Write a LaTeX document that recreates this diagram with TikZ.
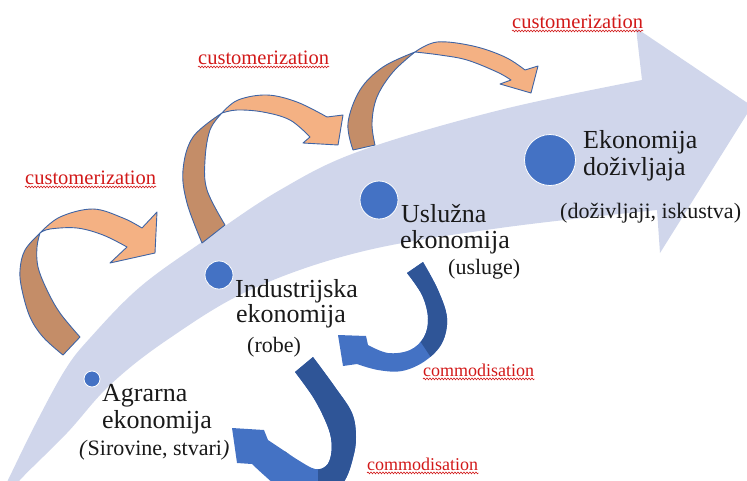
\documentclass[tikz,border=0pt]{standalone}
\usepackage{fontspec}
\setmainfont{Liberation Serif}
\usetikzlibrary{decorations.pathmorphing}
\definecolor{bandc}{RGB}{208,214,235}
\definecolor{olight}{RGB}{244,177,131}
\definecolor{obrown}{RGB}{196,141,104}
\definecolor{oline}{RGB}{62,100,165}
\definecolor{bdarkc}{RGB}{47,85,151}
\definecolor{blightc}{RGB}{68,114,196}
\definecolor{dotc}{RGB}{68,114,196}
\definecolor{redc}{RGB}{210,25,25}
\definecolor{txtc}{RGB}{25,25,25}
\newcommand\mainfs{\fontsize{26}{27}\selectfont}
\newcommand\subfs{\fontsize{22}{24}\selectfont}
\newcommand\cufs{\fontsize{20.5}{22}\selectfont}
\newcommand\cofs{\fontsize{18}{20}\selectfont}
\tikzset{
  backface/.style={fill=obrown, draw=oline, line width=0.9pt, line join=round},
  frontface/.style={fill=olight, draw=oline, line width=0.9pt, line join=round},
  bluelight/.style={fill=blightc},
  bluedark/.style={fill=bdarkc},
  dot/.style={circle, fill=dotc, draw=white, line width=0.8pt, inner sep=0pt},
  lab/.style={anchor=base west, inner sep=0pt, font=\mainfs, text=txtc},
  sublab/.style={anchor=base west, inner sep=0pt, font=\subfs, text=txtc},
  culab/.style={anchor=base west, inner sep=0pt, font=\cufs, text=redc},
  colab/.style={anchor=base west, inner sep=0pt, font=\cofs, text=redc},
  squiggle/.style={draw=redc, line width=0.6pt, decorate,
    decoration={snake, amplitude=0.9pt, segment length=3pt}},
  sm/.style={smooth, tension=0.6}
}
\begin{document}
\begin{tikzpicture}[x=1pt,y=-1pt]
\useasboundingbox (0,0) rectangle (747,480);
% big curved arrow
\fill[bandc] plot[sm] coordinates {(2,492)(8,480)(35,425)(65,370)(90,338)(140,287)(205,240)(280,190)(360,151)(500,110)(642,80)}
  -- (636,28) -- (752,106) -- (660,253)
  -- plot[sm] coordinates {(657,210)(500,228)(360,252)(250,290)(167,340)(110,385)(67,433)(20,480)(14,492)} -- cycle;

% orange arrow 1
\filldraw[backface] plot[sm] coordinates {(63,355)(43,337)(30,317)(22,290)(20,270)(25,250)(40,233)}
  -- plot[sm] coordinates {(40,233)(37,247)(38,267)(47,290)(60,313)(80,337)} -- cycle;
\filldraw[frontface] plot[sm] coordinates {(40,233)(60,217)(93,209)(123,218)(142,228)}
  -- (157,212) -- (155,253) -- (110,263) -- (127,247)
  -- plot[sm] coordinates {(127,247)(103,235)(77,228)(50,229)(40,233)} -- cycle;

% orange arrow 2
\filldraw[backface] plot[sm] coordinates {(202,243)(187,203)(183,170)(193,137)(222,113)}
  -- plot[sm] coordinates {(222,113)(210,130)(205,160)(207,190)(225,225)} -- cycle;
\filldraw[frontface] plot[sm] coordinates {(222,113)(238,100)(267,95)(297,102)(327,117)}
  -- (343,115) -- (338,145) -- (303,143) -- (310,137)
  -- plot[sm] coordinates {(310,137)(290,120)(263,112)(237,110)(222,113)} -- cycle;

% orange arrow 3
\filldraw[backface] plot[sm] coordinates {(353,150)(348,123)(360,90)(383,67)(415,52)}
  -- plot[sm] coordinates {(415,52)(393,72)(377,97)(372,123)(375,145)} -- cycle;
\filldraw[frontface] plot[sm] coordinates {(415,52)(437,42)(473,46)(505,57)(525,70)}
  -- (538,66) -- (531,93) -- (500,84) -- (511,80)
  -- plot[sm] coordinates {(511,80)(497,72)(467,60)(440,55)(415,52)} -- cycle;

% blue arrow A
\fill[bluelight] (407,273) -- plot[sm] coordinates {(423,262)(438,290)(447,318)(442,343)(425,361)(402,371)(378,370)(357,364)}
  -- (343,366) -- (338,335) -- (366,336) -- (368,345)
  -- plot[sm] coordinates {(368,345)(388,353)(410,350)(424,337)(428,318)(422,295)(407,273)} -- cycle;
\begin{scope}
\clip (407,273) -- plot[sm] coordinates {(423,262)(438,290)(447,318)(442,343)(425,361)(402,371)(378,370)(357,364)}
  -- (343,366) -- (338,335) -- (366,336) -- (368,345)
  -- plot[sm] coordinates {(368,345)(388,353)(410,350)(424,337)(428,318)(422,295)(407,273)} -- cycle;
\fill[bluedark] (395,250) -- (470,250) -- (470,366) -- (432,359) -- (420,341) -- (395,341) -- cycle;
\end{scope}

% blue arrow B
\fill[bluelight] (295,372) -- plot[sm] coordinates {(313,357)(335,387)(352,413)(356,437)(353,458)(345,480)(330,496)(305,500)(282,490)(265,476)(252,464)}
  -- (237,463) -- (232,428) -- (264,430) -- (268,440)
  -- plot[sm] coordinates {(268,440)(280,448)(298,460)(315,469)(326,466)(331,455)(331,438)(325,420)(313,397)(295,372)} -- cycle;
\begin{scope}
\clip (295,372) -- plot[sm] coordinates {(313,357)(335,387)(352,413)(356,437)(353,458)(345,480)(330,496)(305,500)(282,490)(265,476)(252,464)}
  -- (237,463) -- (232,428) -- (264,430) -- (268,440)
  -- plot[sm] coordinates {(268,440)(280,448)(298,460)(315,469)(326,466)(331,455)(331,438)(325,420)(313,397)(295,372)} -- cycle;
\fill[bluedark] (285,345) -- (380,345) -- (380,505) -- (318,505) -- (318,468) -- (285,452) -- cycle;
\end{scope}

% dots
\node[dot, minimum size=16pt] (d1) at (92,379) {};
\node[dot, minimum size=28pt] (d2) at (219,275) {};
\node[dot, minimum size=38pt] (d3) at (379,200) {};
\node[dot, minimum size=51pt] (d4) at (550,160) {};

% labels
\node[lab] (agr1) at (102,401) {Agrarna};
\node[lab] (agr2) at (102,428) {ekonomija};
\node[sublab] (agr3) at (79,455) {\textit{(}Sirovine, stvari\textit{)}};
\node[lab] (ind1) at (235,297) {Industrijska};
\node[lab] (ind2) at (236,322) {ekonomija};
\node[sublab] (ind3) at (247,352) {(robe)};
\node[lab] (usl1) at (401,222) {Uslužna};
\node[lab] (usl2) at (400,248) {ekonomija};
\node[sublab] (usl3) at (448,274) {(usluge)};
\node[lab] (eko1) at (583,148) {Ekonomija};
\node[lab] (eko2) at (583,175) {doživljaja};
\node[sublab] (eko3) at (560,218) {(doživljaji, iskustva)};

% red labels
\node[culab] (cu1) at (25,184) {customerization};
\node[culab] (cu2) at (198,64) {customerization};
\node[culab] (cu3) at (512,28) {customerization};
\node[colab] (co1) at (423,376) {commodisation};
\node[colab] (co2) at (367,470) {commodisation};
\foreach \n in {cu1,cu2,cu3,co1,co2}
  \draw[squiggle] ([yshift=-2.5pt]\n.south west) -- ([yshift=-2.5pt]\n.south east);
\end{tikzpicture}
\end{document}
